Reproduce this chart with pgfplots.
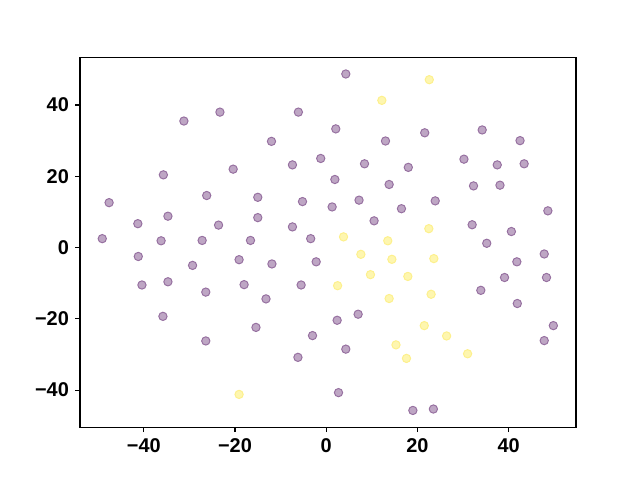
\documentclass[border=0pt]{standalone}
\usepackage{pgfplots}
\pgfplotsset{compat=1.18}
\usepackage{fontspec}
\setmainfont{Liberation Sans}
\definecolor{pfill}{RGB}{190,166,196}
\definecolor{pedge}{RGB}{150,112,160}
\definecolor{yfill}{RGB}{254,246,175}
\definecolor{yedge}{RGB}{253,240,140}
\begin{document}
\begin{tikzpicture}
\path[use as bounding box] (0,0) rectangle (6.4in,4.8in);
\begin{axis}[
  at={(0.125*6.4in,0.11*4.8in)}, anchor=south west,
  width=4.96in, height=3.696in, scale only axis,
  xmin=-53.98, xmax=54.77, ymin=-50.4, ymax=53.3,
  axis line style={line width=0.8pt},
  xtick={-40,-20,0,20,40}, ytick={-40,-20,0,20,40},
  xticklabels={−40,−20,0,20,40}, yticklabels={−40,−20,0,20,40},
  tick align=outside, xtick pos=bottom, ytick pos=left,
  major tick length=3.5pt, tick style={line width=0.8pt, black},
  ticklabel style={font=\fontsize{14.4}{16}\selectfont\bfseries},
  xticklabel style={yshift=-1pt}, yticklabel style={xshift=-1pt},
  clip=false,
]
\addplot[only marks, mark=*, mark size=3pt, mark options={fill=pfill, draw=pedge, line width=0.7pt}] coordinates {
(-31.2,35.5) (-23.3,38.0) (-6.1,38.0) (-12.0,29.8) (-7.4,23.2) (-1.2,25.0)
(-35.7,20.4) (-20.4,22.0) (-47.6,12.6) (-26.2,14.6) (-15.0,14.1) (-5.2,12.9)
(1.3,11.4) (-41.3,6.7) (-34.7,8.8) (-23.6,6.3) (-15.0,8.4) (-7.4,5.8)
(-49.1,2.5) (-36.2,1.9) (-27.2,2.0) (-16.6,2.0) (-3.4,2.5)
(4.3,48.7) (2.1,33.3) (13.0,29.9) (21.6,32.2) (34.2,33.0) (42.5,30.0)
(8.4,23.5) (18.0,22.5) (30.2,24.8) (37.5,23.2) (43.4,23.5)
(1.9,19.1) (13.8,17.7) (32.3,17.3) (38.1,17.5)
(7.2,13.3) (16.5,10.9) (23.9,13.1) (48.6,10.3)
(10.5,7.5) (32.0,6.4) (40.6,4.5) (35.2,1.2)
(-41.2,-2.5) (-29.3,-5.0) (-19.1,-3.4) (-11.9,-4.6) (-2.2,-4.0)
(-40.4,-10.5) (-34.7,-9.6) (-26.4,-12.5) (-18.0,-10.4) (-5.5,-10.5)
(-13.2,-14.4) (-35.8,-19.3) (-15.4,-22.4) (-26.4,-26.2) (-3.0,-24.7) (-6.2,-30.8)
(41.8,-4.0) (47.8,-1.8) (39.1,-8.4) (48.3,-8.4) (33.9,-12.0) (41.9,-15.7)
(49.8,-21.9) (47.8,-26.1)
(2.4,-20.4) (7.0,-18.7) (4.3,-28.5) (2.7,-40.7) (19.0,-45.7) (23.5,-45.3)
};
\addplot[only marks, mark=*, mark size=3pt, mark options={fill=yfill, draw=yedge, line width=0.7pt}] coordinates {
(22.6,47.1) (12.2,41.3) (3.8,3.0) (13.5,1.9) (22.5,5.3)
(7.6,-1.9) (14.4,-3.3) (23.6,-3.1) (9.7,-7.6) (17.9,-8.1)
(2.5,-10.7) (13.8,-14.3) (23.0,-13.1) (21.5,-21.9) (26.4,-24.8)
(15.3,-27.3) (17.6,-31.1) (31.0,-29.8) (-19.1,-41.2)
};
\end{axis}
\end{tikzpicture}
\end{document}
